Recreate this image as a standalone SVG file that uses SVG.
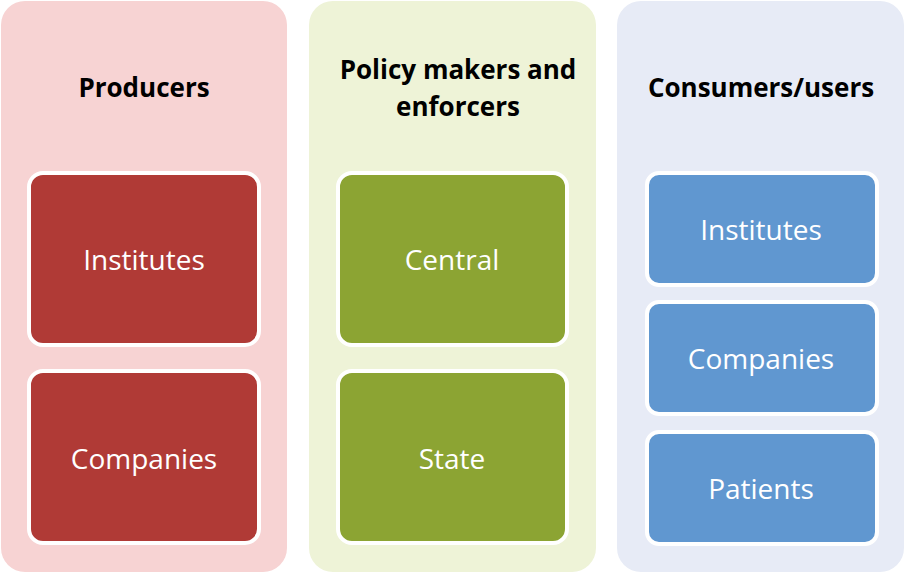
<svg xmlns="http://www.w3.org/2000/svg" width="905" height="574" viewBox="0 0 905 574">
<style>
.t{font-family:"Open Sans","Liberation Sans",sans-serif;font-weight:bold;font-size:26px;fill:#000;text-anchor:middle}
.l{font-family:"Open Sans","Liberation Sans",sans-serif;font-size:28px;fill:#fff;text-anchor:middle}
.b{stroke:#fff;stroke-width:4}
.r{fill:#b03a36}.g{fill:#8ca433}.u{fill:#6097d0}
</style>
<g id="col-producers">
<rect x="1" y="1" width="286" height="571" rx="24" fill="#f7d3d3"/>
<text class="t" x="144" y="97">Producers</text>
</g>
<g id="col-policy">
<rect x="309" y="1" width="287" height="571" rx="24" fill="#eef3d7"/>
<text class="t" x="458" y="79">Policy makers and</text>
<text class="t" x="458" y="116">enforcers</text>
</g>
<g id="col-consumers">
<rect x="617" y="1" width="287" height="571" rx="24" fill="#e7ebf6"/>
<text class="t" x="761" y="97">Consumers/users</text>
</g>
<g id="p-institutes"><rect class="b r" x="29" y="173" width="230" height="172" rx="14"/><text class="l" x="144" y="270">Institutes</text></g>
<g id="p-companies"><rect class="b r" x="29" y="371" width="230" height="172" rx="14"/><text class="l" x="144" y="469">Companies</text></g>
<g id="c-central"><rect class="b g" x="338" y="173" width="229" height="172" rx="14"/><text class="l" x="452" y="270">Central</text></g>
<g id="c-state"><rect class="b g" x="338" y="371" width="229" height="172" rx="14"/><text class="l" x="452" y="469">State</text></g>
<g id="u-institutes"><rect class="b u" x="647" y="173" width="230" height="112" rx="12"/><text class="l" x="761" y="240">Institutes</text></g>
<g id="u-companies"><rect class="b u" x="647" y="302" width="230" height="112" rx="12"/><text class="l" x="761" y="369">Companies</text></g>
<g id="u-patients"><rect class="b u" x="647" y="432" width="230" height="112" rx="12"/><text class="l" x="761" y="499">Patients</text></g>
<g id="connectors"/>
</svg>
